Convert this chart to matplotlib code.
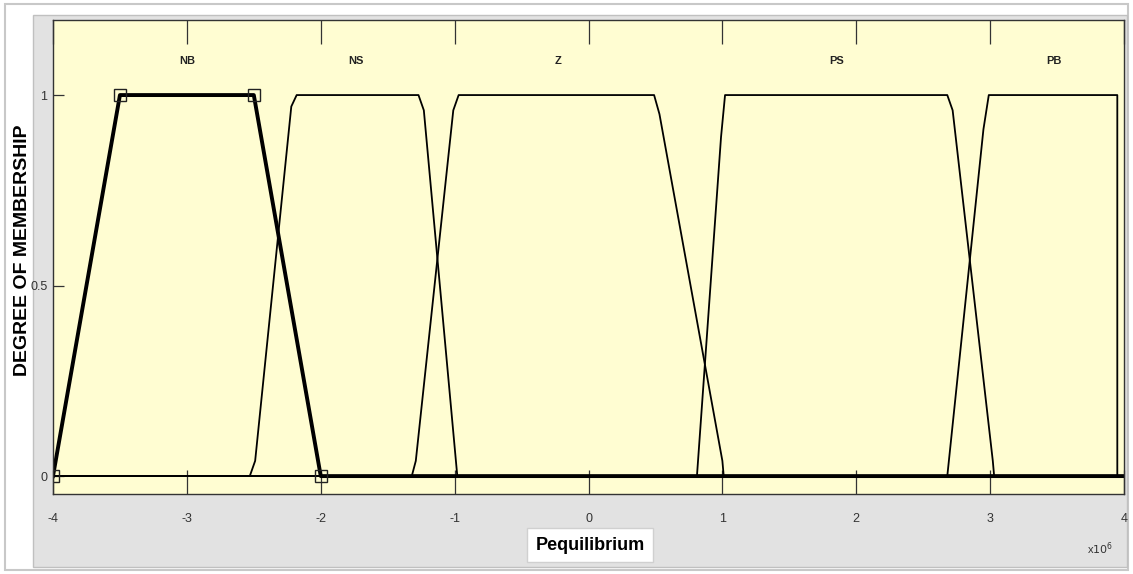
import numpy as np
from matplotlib import pyplot as plt
from matplotlib.patches import Rectangle

# membership functions, x in units of 1e6
nb_x = [-4.0, -3.5, -2.5, -2.0, 4.0]
nb_y = [0.0, 1.0, 1.0, 0.0, 0.0]

ns_x = [-4.0, -2.53, -2.49, -2.22, -2.18, -1.27, -1.23, -0.98, 4.0]
ns_y = [0.0, 0.0, 0.04, 0.97, 1.0, 1.0, 0.96, 0.0, 0.0]

z_x = [-4.0, -1.32, -1.29, -1.01, -0.97, 0.49, 0.53, 1.0, 1.01, 4.0]
z_y = [0.0, 0.0, 0.04, 0.96, 1.0, 1.0, 0.95, 0.04, 0.0, 0.0]

ps_x = [-4.0, 0.81, 0.99, 1.02, 2.68, 2.72, 3.02, 3.03, 4.0]
ps_y = [0.0, 0.0, 0.89, 1.0, 1.0, 0.96, 0.04, 0.0, 0.0]

pb_x = [-4.0, 2.68, 2.95, 2.99, 3.95, 3.95]
pb_y = [0.0, 0.0, 0.91, 1.0, 1.0, 0.0]

mf_names = ['NB', 'NS', 'Z', 'PS', 'PB']
name_x = [-3.0, -1.74, -0.23, 1.85, 3.48]
name_y = 1.09

x_ticks = [-4, -3, -2, -1, 0, 1, 2, 3, 4]
y_ticks = [0, 0.5, 1]
y_tick_labels = ['0', '0.5', '1']

W, H = 1133, 574
fig = plt.figure(figsize=(W / 100, H / 100), dpi=100)
fig.patch.set_facecolor('white')

# outer light frame and grey panel behind the axes
fig.patches.append(Rectangle((5 / W, 4 / H), 1123 / W, 566 / H, transform=fig.transFigure,
                             facecolor='none', edgecolor='#c8c8c8', linewidth=1.5, zorder=-10))
fig.patches.append(Rectangle((33 / W, (H - 567) / H), 1094 / W, 552 / H, transform=fig.transFigure,
                             facecolor='#e2e2e2', edgecolor='#c0c0c0', linewidth=1.0, zorder=-9))

ax = fig.add_axes([53 / W, (H - 494) / H, (1124 - 53) / W, (494 - 20) / H])
ax.set_facecolor('#fffdd2')

thin = dict(color='black', linewidth=1.3)
ax.plot(ns_x, ns_y, **thin)
ax.plot(z_x, z_y, **thin)
ax.plot(ps_x, ps_y, **thin)
ax.plot(pb_x, pb_y, **thin)
# the selected function is drawn thick with square handles
ax.plot(nb_x, nb_y, color='black', linewidth=2.8, marker='s', markersize=8,
        markerfacecolor='none', markeredgecolor='#222222', markeredgewidth=1.0,
        markevery=[0, 1, 2, 3])

for name, nx in zip(mf_names, name_x):
    ax.text(nx, name_y, name, ha='center', va='center', fontsize=8, fontweight='bold',
            family='Liberation Sans', color='#222222')

ax.set_xlim(-4, 4)
ax.set_ylim(-0.047, 1.197)
ax.set_xticks(x_ticks)
ax.set_xticklabels([str(t) for t in x_ticks], family='Liberation Sans', fontsize=9)
ax.set_yticks(y_ticks)
ax.set_yticklabels(y_tick_labels, family='Liberation Sans', fontsize=9)
ax.tick_params(axis='x', direction='in', length=17, width=0.9, top=True, pad=14, colors='#333333')
ax.tick_params(axis='y', direction='in', length=8, width=0.9, pad=4, colors='#333333')
for side in ax.spines.values():
    side.set_color('#333333')
    side.set_linewidth(1.0)

ax.set_ylabel('DEGREE OF MEMBERSHIP', family='Liberation Sans', fontsize=14,
              fontweight='bold')
ax.yaxis.set_label_coords(-0.0205, 0.515)

fig.text(590 / W, 1 - 545 / H, 'Pequilibrium', ha='center', va='center', fontsize=13,
         fontweight='bold', family='Liberation Sans',
         bbox=dict(boxstyle='square,pad=0.45', facecolor='white', edgecolor='#d0d0d0', linewidth=1.0))
fig.text(1100 / W, 1 - 549 / H, r'x$10^{6}$', ha='center', va='center', fontsize=8,
         family='Liberation Sans', color='#333333')

plt.savefig('out.png', dpi=100)
